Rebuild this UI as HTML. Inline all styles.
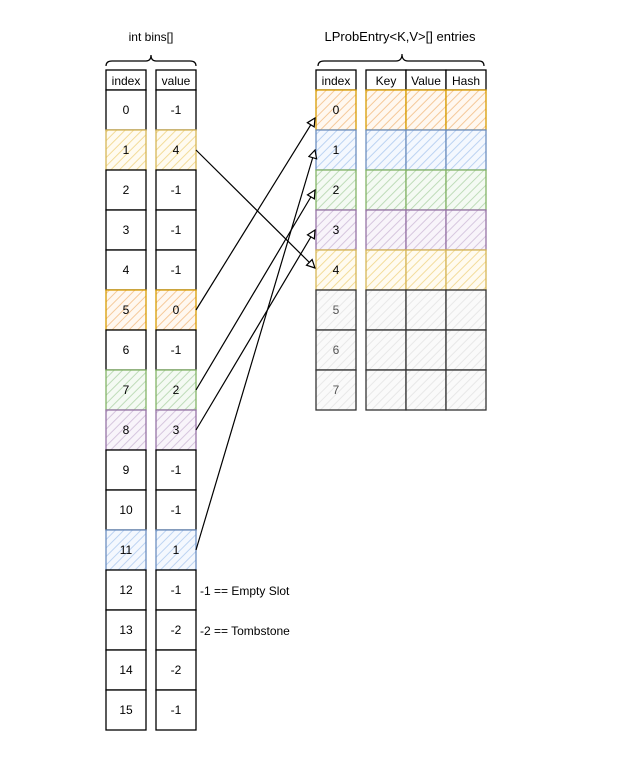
<!DOCTYPE html>
<html><head><meta charset="utf-8"><style>
body{margin:0;background:#fff;}
svg{display:block;font-family:"Liberation Sans",Arial,sans-serif;}
</style></head><body>
<svg width="626" height="771" viewBox="0 0 626 771" xmlns="http://www.w3.org/2000/svg">
<defs>
<pattern id="po" width="6" height="6" patternUnits="userSpaceOnUse" patternTransform="rotate(45)"><rect width="6" height="6" fill="#fff8f0"/><line x1="0" y1="0" x2="0" y2="6" stroke="#f5c99a" stroke-width="2"/></pattern>
<pattern id="py" width="6" height="6" patternUnits="userSpaceOnUse" patternTransform="rotate(45)"><rect width="6" height="6" fill="#fffbf0"/><line x1="0" y1="0" x2="0" y2="6" stroke="#f3dc9a" stroke-width="2"/></pattern>
<pattern id="pb" width="6" height="6" patternUnits="userSpaceOnUse" patternTransform="rotate(45)"><rect width="6" height="6" fill="#f4f8fe"/><line x1="0" y1="0" x2="0" y2="6" stroke="#bcd3f2" stroke-width="2"/></pattern>
<pattern id="pg" width="6" height="6" patternUnits="userSpaceOnUse" patternTransform="rotate(45)"><rect width="6" height="6" fill="#f4faf3"/><line x1="0" y1="0" x2="0" y2="6" stroke="#bfdcb9" stroke-width="2"/></pattern>
<pattern id="pp" width="6" height="6" patternUnits="userSpaceOnUse" patternTransform="rotate(45)"><rect width="6" height="6" fill="#f8f4fa"/><line x1="0" y1="0" x2="0" y2="6" stroke="#d6c6de" stroke-width="2"/></pattern>
<pattern id="pw" width="6" height="6" patternUnits="userSpaceOnUse" patternTransform="rotate(45)"><rect width="6" height="6" fill="#fafafa"/><line x1="0" y1="0" x2="0" y2="6" stroke="#e8e8e8" stroke-width="2"/></pattern>
<marker id="ar" markerWidth="10" markerHeight="10" refX="9" refY="5" orient="auto" markerUnits="userSpaceOnUse"><path d="M1,1 L9,5 L1,9 Z" fill="#fff" stroke="#000" stroke-width="1.2"/></marker>
</defs>
<g text-anchor="middle" fill="#000">
<text x="151" y="41" font-size="12">int bins[]</text>
<text x="400" y="41" font-size="13">LProbEntry&lt;K,V&gt;[] entries</text>
</g>
<g fill="none" stroke="#000" stroke-width="1.2">
<path d="M106,66 Q106,61 112,61 L146,61 Q151,61 151,55 Q151,61 156,61 L190,61 Q196,61 196,66"/>
<path d="M318,66 Q318,61 324,61 L396,61 Q402,61 402,54 Q402,61 408,61 L479,61 Q484,61 484,66"/>
</g>
<g id="left" stroke-width="1.3" font-size="12" text-anchor="middle">
<rect x="106" y="70" width="40" height="20" fill="#fff" stroke="#000"/><text x="126" y="85">index</text>
<rect x="156" y="70" width="40" height="20" fill="#fff" stroke="#000"/><text x="176" y="85">value</text>
</g>
<g id="rows" stroke-width="1.3" font-size="12" text-anchor="middle"></g>
<g id="right" stroke-width="1.3" font-size="12" text-anchor="middle">
<rect x="316" y="70" width="40" height="20" fill="#fff" stroke="#000"/><text x="336" y="85">index</text>
<rect x="366" y="70" width="40" height="20" fill="#fff" stroke="#000"/><text x="386" y="85">Key</text>
<rect x="406" y="70" width="40" height="20" fill="#fff" stroke="#000"/><text x="426" y="85">Value</text>
<rect x="446" y="70" width="40" height="20" fill="#fff" stroke="#000"/><text x="466" y="85">Hash</text>
</g>
<g font-size="12" fill="#000">
<text x="200" y="595">-1 == Empty Slot</text>
<text x="200" y="635">-2 == Tombstone</text>
</g>
<g stroke="#000" stroke-width="1.2" fill="none" marker-end="url(#ar)">
<line x1="196" y1="150" x2="315" y2="268"/>
<line x1="196" y1="310" x2="315" y2="118"/>
<line x1="196" y1="390" x2="315" y2="190"/>
<line x1="196" y1="430" x2="315" y2="230"/>
<line x1="196" y1="550" x2="315" y2="150"/>
</g>
<script>
var ns="http://www.w3.org/2000/svg";
function rect(g,x,y,w,h,f,s,t,tc){var r=document.createElementNS(ns,"rect");r.setAttribute("x",x);r.setAttribute("y",y);r.setAttribute("width",w);r.setAttribute("height",h);r.setAttribute("fill",f);r.setAttribute("stroke",s);g.appendChild(r);if(t!==undefined){var e=document.createElementNS(ns,"text");e.setAttribute("x",x+w/2);e.setAttribute("y",y+h/2+4);e.setAttribute("fill",tc||"#000");e.textContent=t;g.appendChild(e);}}
var C={o:["url(#po)","#d79b00"],y:["url(#py)","#d6b656"],b:["url(#pb)","#6c8ebf"],g:["url(#pg)","#82b366"],p:["url(#pp)","#9673a6"],n:["#fff","#000"],w:["url(#pw)","#333"]};
var vals=["-1","4","-1","-1","-1","0","-1","2","3","-1","-1","1","-1","-2","-2","-1"];
var cl={1:"y",5:"o",7:"g",8:"p",11:"b"};
var g=document.getElementById("rows");
for(var i=0;i<16;i++){var c=C[cl[i]||"n"],y=90+i*40;rect(g,106,y,40,40,c[0],c[1],String(i));rect(g,156,y,40,40,c[0],c[1],vals[i]);}
var rc=["o","b","g","p","y","w","w","w"];
var r=document.getElementById("right");
for(var i=0;i<8;i++){var c=C[rc[i]],y=90+i*40,tc=i>4?"#555":"#000";rect(r,316,y,40,40,c[0],c[1],String(i),tc);rect(r,366,y,40,40,c[0],c[1]);rect(r,406,y,40,40,c[0],c[1]);rect(r,446,y,40,40,c[0],c[1]);}
</script>
</svg>
</body></html>
